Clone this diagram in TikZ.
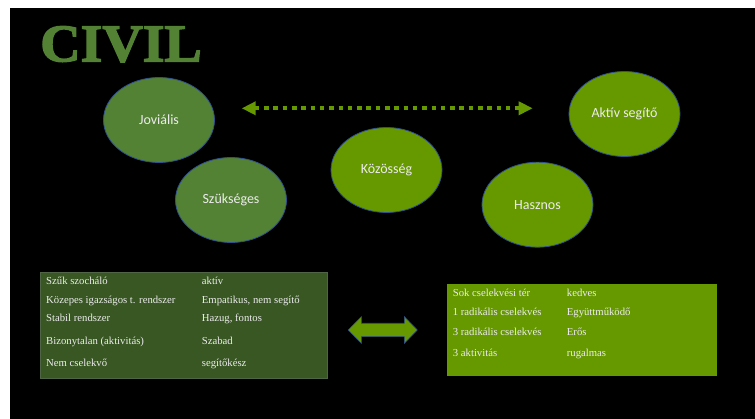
\documentclass[tikz,border=0pt]{standalone}
\usepackage{fontspec}
\setmainfont{Liberation Serif}
\newfontfamily\calfont{Carlito}
\newfontfamily\titlefont[FakeBold=2.5]{Liberation Serif Bold}
\usetikzlibrary{arrows.meta,shapes.geometric}
\definecolor{dkgreen}{RGB}{84,130,53}
\definecolor{ltgreen}{RGB}{102,153,0}
\definecolor{tblgreen}{RGB}{56,87,35}
\definecolor{tbledge}{RGB}{80,100,70}
\definecolor{edgeblue}{RGB}{47,82,143}
\definecolor{txt}{RGB}{236,236,236}
\begin{document}
\begin{tikzpicture}[x=1pt,y=-1pt,
  bubble/.style={ellipse, draw=edgeblue, line width=0.8pt, minimum width=111pt, minimum height=85pt, inner sep=0pt, font=\calfont\fontsize{14}{16}\selectfont, text=txt},
  darkbubble/.style={bubble, fill=dkgreen},
  lightbubble/.style={bubble, fill=ltgreen},
  cell/.style={anchor=west, inner sep=0pt, text height=7pt, text depth=2pt, font=\fontsize{10.7}{12}\selectfont, text=txt},
  dotarrow/.style={ltgreen, line width=4pt, dash pattern=on 4.5pt off 4.8pt, >={Triangle[length=14pt,width=13pt]}, <->}]
\useasboundingbox (0,0) rectangle (755,419);
\fill[white] (0,0) rectangle (755,419);
\fill[black] (10,8) rectangle (755,419);
% title
\node[anchor=west, inner sep=0pt, text=dkgreen, font=\titlefont\fontsize{53}{53}\selectfont, xscale=1.055] (title) at (40,44.2) {CIVIL};
% bubbles
\node[darkbubble] (jov) at (159,120) {Joviális};
\node[darkbubble] (szuk) at (231,200) {Szükséges};
\node[lightbubble] (koz) at (386.5,170) {Közösség};
\node[lightbubble] (hasz) at (537.5,204.7) {Hasznos};
\node[lightbubble] (akt) at (624.5,114) {Aktív segítő};
% dotted arrow
\coordinate (dl) at (241.7,108.3);
\coordinate (dr) at (532.7,108.3);
\draw[dotarrow] (dl) -- (dr);
% left table
\node[draw=tbledge, line width=0.8pt, fill=tblgreen, minimum width=286.7pt, minimum height=105.4pt, inner sep=0pt, anchor=north west] (ltab) at (40,272.3) {};
\node[cell] (l11) at (46,282.3) {Szűk szocháló};
\node[cell] (l12) at (201.7,282.3) {aktív};
\node[cell] (l21) at (46,301) {Közepes igazságos t. rendszer};
\node[cell] (l22) at (201.7,301) {Empatikus, nem segítő};
\node[cell] (l31) at (46,319.3) {Stabil rendszer};
\node[cell] (l32) at (201.7,319.3) {Hazug, fontos};
\node[cell] (l41) at (46,342.3) {Bizonytalan (aktivitás)};
\node[cell] (l42) at (201.7,342.3) {Szabad};
\node[cell] (l51) at (46,364.3) {Nem cselekvő};
\node[cell] (l52) at (201.7,364.3) {segítőkész};
% right table
\node[fill=ltgreen, minimum width=270pt, minimum height=92pt, inner sep=0pt, anchor=north west] (rtab) at (446.7,284) {};
\node[cell] (r11) at (452.7,294) {Sok cselekvési tér};
\node[cell] (r12) at (566.7,294) {kedves};
\node[cell] (r21) at (452.7,312.7) {1 radikális cselekvés};
\node[cell] (r22) at (566.7,312.7) {Együttműködő};
\node[cell] (r31) at (452.7,333.3) {3 radikális cselekvés};
\node[cell] (r32) at (566.7,333.3) {Erős};
\node[cell] (r41) at (452.7,354) {3 aktivitás};
\node[cell] (r42) at (566.7,354) {rugalmas};
% double arrow
\draw[fill=ltgreen, draw=edgeblue, line width=0.6pt]
  (348.3,330) -- (361.3,316.7) -- (361.3,323.3) -- (404.3,323.3) -- (404.3,316.7)
  -- (417.3,330) -- (404.3,343.3) -- (404.3,336.7) -- (361.3,336.7) -- (361.3,343.3) -- cycle;
\end{tikzpicture}
\end{document}
